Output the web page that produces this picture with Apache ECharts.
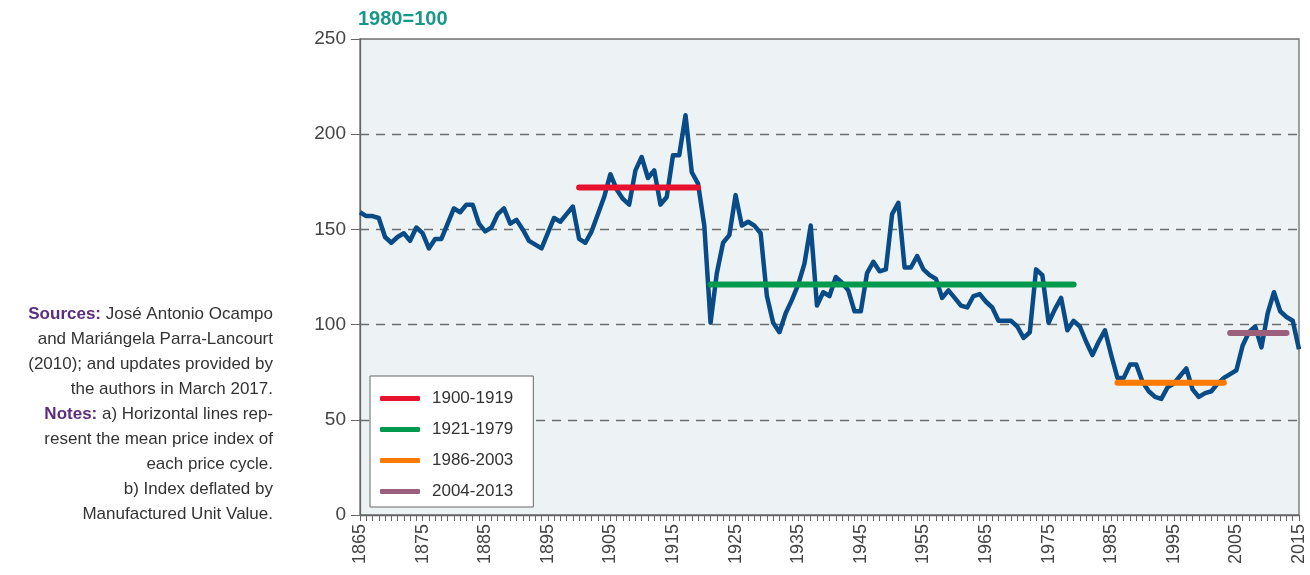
<!DOCTYPE html>
<html>
<head>
<meta charset="utf-8">
<script src="https://cdn.jsdelivr.net/npm/echarts@6/dist/echarts.min.js"></script>
<style>
  html, body { margin: 0; padding: 0; background: #fff; }
  #main { width: 1310px; height: 575px; }
</style>
</head>
<body>
<div id="main"></div>
<script>
// years on the x axis
var years = [];
for (var y = 1865; y <= 2015; y++) years.push(String(y));

// price index, 1980=100
var priceIndex = [
	159, 157, 157, 156, 146, 143, 146, 148, 144, 151, // 1865-1874
	148, 140, 145, 145, 153, 161, 159, 163, 163, 153, // 1875-1884
	149, 151, 158, 161, 153, 155, 150, 144, 142, 140, // 1885-1894
	148, 156, 154, 158, 162, 145, 143, 149, 158, 167, // 1895-1904
	179, 171, 166, 163, 181, 188, 177, 181, 163, 167, // 1905-1914
	189, 189, 210, 180, 174, 152, 101, 127, 143, 147, // 1915-1924
	168, 152, 154, 152, 148, 115, 101, 96, 106, 113,  // 1925-1934
	121, 132, 152, 110, 117, 115, 125, 122, 118, 107, // 1935-1944
	107, 127, 133, 128, 129, 158, 164, 130, 130, 136, // 1945-1954
	129, 126, 124, 114, 118, 114, 110, 109, 115, 116, // 1955-1964
	112, 109, 102, 102, 102, 99, 93, 96, 129, 126,    // 1965-1974
	101, 108, 114, 97, 102, 99, 91, 84, 91, 97,       // 1975-1984
	84, 72, 72, 79, 79, 70, 65, 62, 61, 67,           // 1985-1994
	69, 73, 77, 66, 62, 64, 65, 69, 72, 74,           // 1995-2004
	76, 89, 96, 99, 88, 106, 117, 107, 104, 102,      // 2005-2014
	87                                                // 2015
];

// mean of each price cycle
var cycleNames = ['1900-1919', '1921-1979', '1986-2003', '2004-2013'];
var cycleStart = [1900, 1921, 1986, 2004];
var cycleEnd = [1919, 1979, 2003, 2013];
var cycleMean = [172, 121, 69.5, 95.6];
var cycleColors = ['#e8112d', '#009a4e', '#ff7a00', '#9c5f7c'];

var yTicks = [0, 50, 100, 150, 200, 250];

function cycleData(i) {
	var out = [];
	for (var k = 0; k < years.length; k++) {
		var yr = 1865 + k;
		out.push(yr >= cycleStart[i] && yr <= cycleEnd[i] ? cycleMean[i] : null);
	}
	return out;
}

var font = 'Liberation Sans';

var series = [{
	name: 'Index',
	type: 'line',
	data: priceIndex,
	showSymbol: false,
	symbol: 'none',
	lineStyle: { color: '#084b87', width: 4.5, join: 'round' },
	itemStyle: { color: '#084b87' },
	z: 2
}];
for (var i = 0; i < cycleNames.length; i++) {
	series.push({
		name: cycleNames[i],
		type: 'line',
		data: cycleData(i),
		showSymbol: false,
		symbol: 'none',
		connectNulls: false,
		lineStyle: { color: cycleColors[i], width: 6, cap: 'round' },
		itemStyle: { color: cycleColors[i] },
		z: 3
	});
}

var myChart = echarts.init(document.getElementById('main'));
var option = {
	animation: false,
	textStyle: { fontFamily: font },
	grid: {
		left: 360, right: 11, top: 39, bottom: 60,
		show: true,
		backgroundColor: '#edf3f4',
		borderColor: '#6e6e6e',
		borderWidth: 1.3
	},
	legend: {
		data: cycleNames,
		orient: 'vertical',
		left: 370,
		top: 376,
		backgroundColor: '#fff',
		borderColor: '#666',
		borderWidth: 1,
		padding: [14, 20, 7, 10],
		itemGap: 14,
		itemWidth: 40,
		itemHeight: 5,
		icon: 'roundRect',
		textStyle: { fontSize: 17, color: '#333', fontFamily: font, padding: [0, 0, 0, 7] }
	},
	xAxis: {
		type: 'category',
		data: years,
		boundaryGap: false,
		axisLine: { lineStyle: { color: '#666', width: 1.3 } },
		axisTick: { interval: 0, length: 6, lineStyle: { color: '#666' } },
		axisLabel: {
			interval: 9,
			rotate: 90,
			margin: 9,
			fontSize: 18,
			color: '#444',
			fontFamily: font
		},
		splitLine: { show: false }
	},
	yAxis: {
		type: 'value',
		min: yTicks[0],
		max: yTicks[yTicks.length - 1],
		interval: 50,
		axisLine: { show: true, lineStyle: { color: '#666', width: 1.3 } },
		axisTick: { show: true, length: 9, lineStyle: { color: '#666' } },
		axisLabel: { margin: 14, fontSize: 19, color: '#444', fontFamily: font },
		splitLine: {
			show: true,
			showMinLine: false,
			showMaxLine: false,
			lineStyle: { color: '#6e6e6e', type: [9, 7], width: 1.3 }
		}
	},
	graphic: [{
		type: 'text',
		left: 358,
		top: 9,
		style: {
			text: '1980=100',
			font: 'bold 20px "Liberation Sans"',
			fill: '#1a9887'
		}
	}, {
		type: 'text',
		x: 273,
		y: 302,
		style: {
			text: '{b|Sources:} José Antonio Ocampo\nand Mariángela Parra-Lancourt\n(2010); and updates provided by\nthe authors in March 2017.\n{b|Notes:} a) Horizontal lines rep-\nresent the mean price index of\neach price cycle.\nb) Index deflated by\nManufactured Unit Value.',
			align: 'right',
			verticalAlign: 'top',
			fontSize: 17,
			fontFamily: font,
			lineHeight: 25,
			fill: '#333',
			rich: {
				b: { fontWeight: 'bold', fill: '#5b2d7e', fontSize: 17, fontFamily: font, lineHeight: 25 }
			}
		}
	}],
	series: series
};
myChart.setOption(option);
</script>
</body>
</html>
